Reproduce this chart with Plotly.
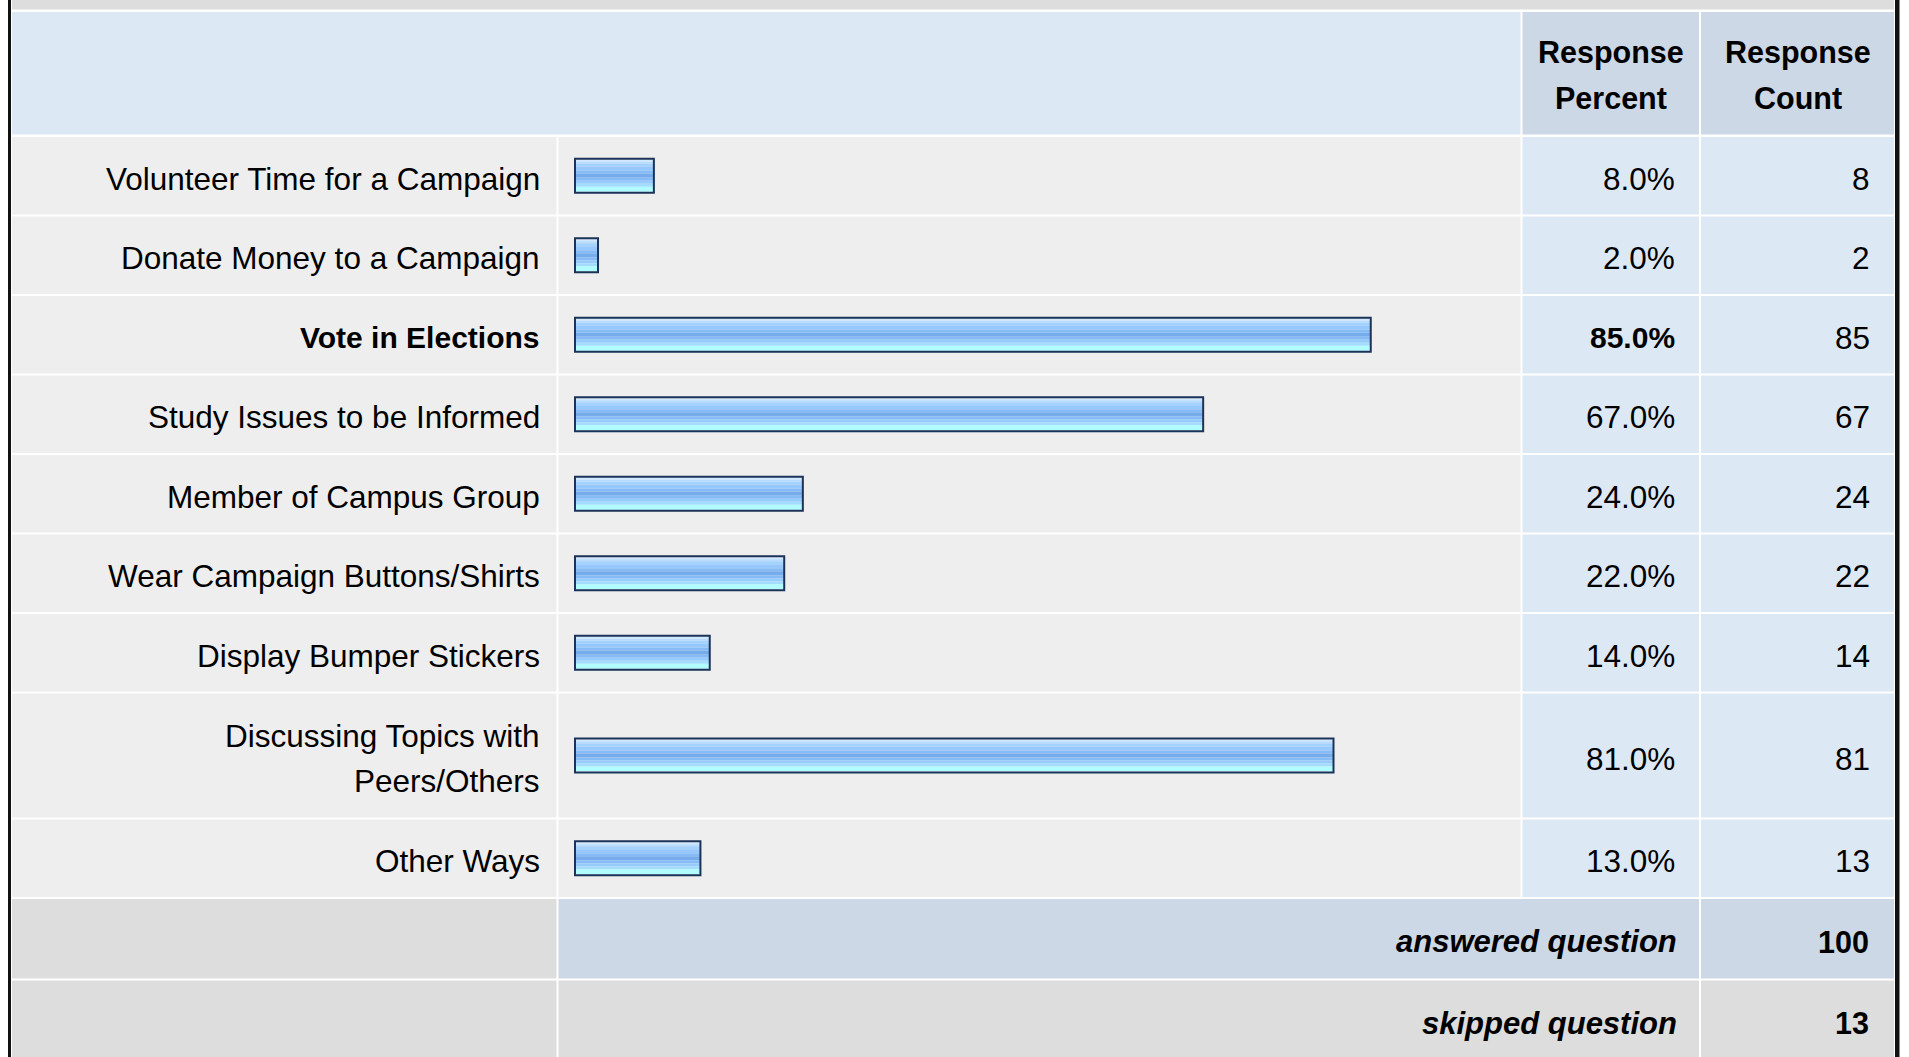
import plotly.graph_objects as go

# ---- survey results -------------------------------------------------------
categories = [
    "Volunteer Time for a Campaign",
    "Donate Money to a Campaign",
    "Vote in Elections",
    "Study Issues to be Informed",
    "Member of Campus Group",
    "Wear Campaign Buttons/Shirts",
    "Display Bumper Stickers",
    "Discussing Topics with<br>Peers/Others",
    "Other Ways",
]
response_percent = [8.0, 2.0, 85.0, 67.0, 24.0, 22.0, 14.0, 81.0, 13.0]
response_count = [8, 2, 85, 67, 24, 22, 14, 81, 13]
column_headers = ["Response<br>Percent", "Response<br>Count"]
summary_labels = ["answered question", "skipped question"]
summary_counts = [100, 13]

# ---- page geometry (pixels) ----------------------------------------------
W, H = 1909, 1057
FONT = "Liberation Sans, Arial, Helvetica, sans-serif"
FS_REG = 31.5          # regular text
FS_BOLD = 30.5         # bold header text
FS_BOLD_ROW = 30       # bold text inside the body rows
FS_BOLD_IT = 31        # bold italic summary labels
LINE_GAP = 45          # distance between wrapped text lines
TEXT_DY = 3            # optical centring of cap height inside a cell

COL_LABEL = (12, 556.5)
COL_BAR = (558.5, 1520.5)
COL_PCT = (1522.5, 1699)
COL_CNT = (1701, 1894)
LEFT_EDGE, RIGHT_EDGE = COL_LABEL[0], COL_CNT[1]

X_LABEL_END = 541.5
X_PCT_END = 1676.5
X_CNT_END = 1872
X_SUMMARY_END = 1679

HEADER = (12, 134.5)
FIRST_ROW_TOP = 137
ROW_H = 77.5
EXTRA_LINE_H = 46.5
ROW_GAP = 2

# colours
C_HEAD = "#dde8f5"
C_HEAD_DARK = "#cdd8e6"
C_ROW = "#eeeeee"
C_CELL = "#dde8f5"
C_GREY = "#dddddd"
C_TEXT = "#000000"
C_BORDER = "#1b3358"

# horizontal scale of the bars: value 0 sits at X_ZERO px
X_ZERO = 579.4
PX_PER_PCT = 9.31
BAR_START_PX = 575     # bars keep a small visible stub at the start


def px(x):
    return x / W


# row extents ------------------------------------------------------------
rows = []
top = FIRST_ROW_TOP
for lab in categories:
    n_lines = lab.count("<br>") + 1
    h = ROW_H + EXTRA_LINE_H * (n_lines - 1)
    rows.append((top, top + h))
    top += h + ROW_GAP
summary_rows = []
for _ in summary_labels:
    summary_rows.append((top, top + ROW_H + 2))
    top += ROW_H + 2 + ROW_GAP

centers = [(a + b) / 2 for a, b in rows]

shapes = []


def rect(x0, x1, y0, y1, color):
    shapes.append(dict(type="rect", xref="paper", yref="y",
                       x0=px(x0), x1=px(x1), y0=y0, y1=y1,
                       fillcolor=color, line=dict(width=0), layer="below"))


# top strip and header
rect(LEFT_EDGE, RIGHT_EDGE, 0, 9.5, C_GREY)
rect(COL_LABEL[0], COL_BAR[1], HEADER[0], HEADER[1], C_HEAD)
rect(COL_PCT[0], COL_PCT[1], HEADER[0], HEADER[1], C_HEAD_DARK)
rect(COL_CNT[0], COL_CNT[1], HEADER[0], HEADER[1], C_HEAD_DARK)

# body rows
for (y0, y1) in rows:
    rect(COL_LABEL[0], COL_LABEL[1], y0, y1, C_ROW)
    rect(COL_BAR[0], COL_BAR[1], y0, y1, C_ROW)
    rect(COL_PCT[0], COL_PCT[1], y0, y1, C_CELL)
    rect(COL_CNT[0], COL_CNT[1], y0, y1, C_CELL)

# summary rows
(a0, a1), (s0, s1) = summary_rows
rect(COL_LABEL[0], COL_LABEL[1], a0, a1, C_GREY)
rect(COL_BAR[0], COL_PCT[1], a0, a1, C_HEAD_DARK)
rect(COL_CNT[0], COL_CNT[1], a0, a1, C_HEAD_DARK)
rect(COL_LABEL[0], COL_LABEL[1], s0, H + 5, C_GREY)
rect(COL_BAR[0], COL_PCT[1], s0, H + 5, C_GREY)
rect(COL_CNT[0], COL_CNT[1], s0, H + 5, C_GREY)

# outer frame lines
rect(8, 11, 0, H, "#111111")
rect(1895, 1899.5, 0, H, "#111111")

# ---- text ---------------------------------------------------------------
annotations = []


def text(x, y, s, anchor="right", bold=False, italic=False, size=None):
    lines = s.split("<br>")
    n = len(lines)
    if size is None:
        if bold and italic:
            size = FS_BOLD_IT
        elif bold:
            size = FS_BOLD
        else:
            size = FS_REG
    for i, line in enumerate(lines):
        yy = y + (i - (n - 1) / 2) * LINE_GAP + TEXT_DY
        if bold:
            line = f"<b>{line}</b>"
        if italic:
            line = f"<i>{line}</i>"
        annotations.append(dict(x=px(x), y=yy, xref="paper", yref="y",
                                text=line, showarrow=False,
                                xanchor=anchor, yanchor="middle",
                                font=dict(family=FONT, size=size, color=C_TEXT)))


head_mid = (HEADER[0] + HEADER[1]) / 2
text((COL_PCT[0] + COL_PCT[1]) / 2, head_mid - 1, column_headers[0], "center", bold=True)
text((COL_CNT[0] + COL_CNT[1]) / 2, head_mid - 1, column_headers[1], "center", bold=True)

top_value = max(response_percent)
for lab, pct, cnt, yc in zip(categories, response_percent, response_count, centers):
    strong = pct == top_value
    fs = FS_BOLD_ROW if strong else FS_REG
    text(X_LABEL_END, yc, lab, bold=strong, size=fs)
    text(X_PCT_END, yc, f"{pct:.1f}%", bold=strong, size=fs)
    text(X_CNT_END, yc, f"{cnt}")

for lab, cnt, (y0, y1) in zip(summary_labels, summary_counts, summary_rows):
    yc = (y0 + y1) / 2
    text(X_SUMMARY_END, yc, lab, bold=True, italic=True)
    text(X_CNT_END - 1, yc, f"{cnt}", bold=True)

# ---- bars: horizontal gradient built from thin bands -----------------------
base = (BAR_START_PX - X_ZERO) / PX_PER_PCT
bands = [
    (2, "#d0e8ff"),
    (2, "#b8dcff"),
    (3, "#a4d2ff"),
    (4, "#96c8fd"),
    (3, "#86bbf5"),
    (4, "#76acec"),
    (3, "#86bbf5"),
    (3, "#96cbfd"),
    (3, "#a4dcff"),
    (5, "#b0fcff"),
]

fig = go.Figure()
offset = -16
for thick, col in bands:
    fig.add_trace(go.Bar(
        y=centers, x=[v - base for v in response_percent], base=base,
        orientation="h", width=thick, offset=offset,
        marker=dict(color=col, line=dict(width=0)),
        hoverinfo="skip", showlegend=False,
    ))
    offset += thick

fig.add_trace(go.Bar(
    y=centers, x=[v - base for v in response_percent], base=base,
    orientation="h", width=34, offset=-17,
    marker=dict(color="rgba(0,0,0,0)", line=dict(color=C_BORDER, width=2)),
    customdata=categories, hovertemplate="%{customdata}: %{x:.1f}%<extra></extra>",
    showlegend=False,
))

fig.update_layout(
    width=W, height=H,
    margin=dict(l=0, r=0, t=0, b=0),
    paper_bgcolor="#ffffff", plot_bgcolor="rgba(0,0,0,0)",
    barmode="overlay",
    xaxis=dict(range=[-X_ZERO / PX_PER_PCT, (W - X_ZERO) / PX_PER_PCT],
               visible=False, fixedrange=True),
    yaxis=dict(range=[H, 0], visible=False, fixedrange=True),
    shapes=shapes,
    annotations=annotations,
    showlegend=False,
)

fig.write_html("out.html", config={"displayModeBar": False})
